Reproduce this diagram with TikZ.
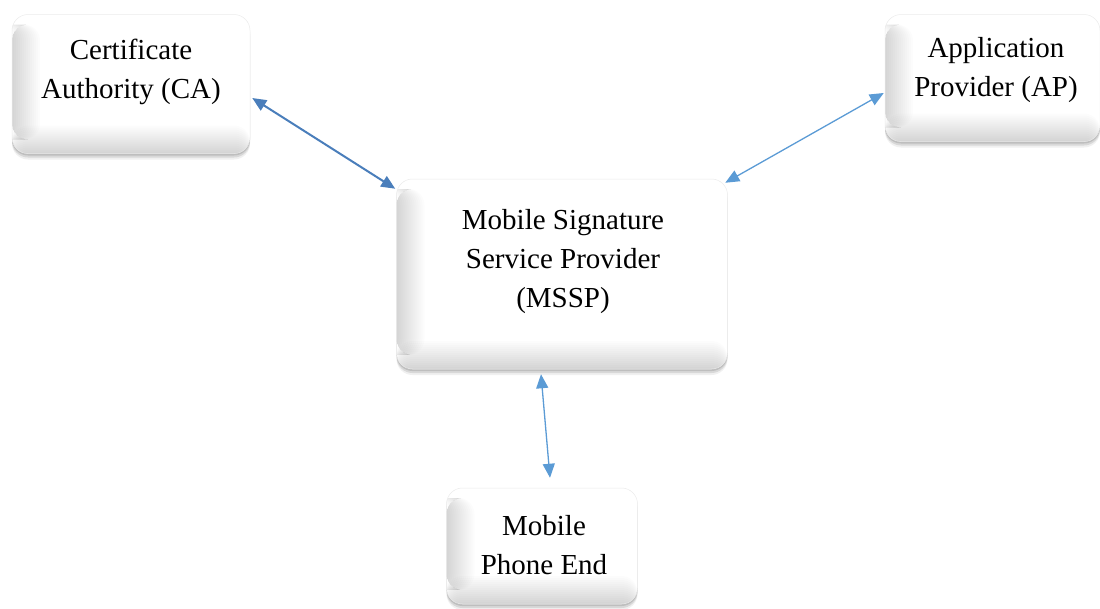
\documentclass[tikz,border=0pt]{standalone}
\usepackage{fontspec}
\setmainfont{Liberation Serif}
\usetikzlibrary{arrows.meta,shadows}
\definecolor{arrdark}{HTML}{4A7EBB}
\definecolor{arrlight}{HTML}{5B9BD5}
\tikzset{
  box/.style={rounded corners=16pt, fill=white, draw=black!8, line width=0.5pt,
    general shadow={shadow yshift=-6pt, fill=black, opacity=0.06},
    general shadow={shadow yshift=-4pt, fill=black, opacity=0.10},
    general shadow={shadow yshift=-2pt, fill=black, opacity=0.12},
    path picture={
      \foreach \i in {1,...,14}{
        \fill[black, opacity=0.012]
          (path picture bounding box.south west) rectangle ([yshift=2*\i pt]path picture bounding box.south east);
      }
      \foreach \i in {1,...,14}{
        \fill[black, opacity=0.010]
          ([yshift=14pt]path picture bounding box.south west) rectangle ([xshift=2*\i pt,yshift=-10pt]path picture bounding box.north west);
      }
    }},
  lbl/.style={align=center, inner sep=0pt, font=\fontsize{29}{39}\selectfont},
  arr/.style={{Triangle[length=14pt,width=12pt]}-{Triangle[length=14pt,width=12pt]}, arrlight, line width=1.3pt},
}
\begin{document}
\begin{tikzpicture}[x=1pt,y=-1pt]
\useasboundingbox (0,0) rectangle (1100,608);
\node[box, minimum width=238pt, minimum height=139pt] (ca) at (131,84) {};
\node[box, minimum width=215pt, minimum height=127pt] (ap) at (992.5,78) {};
\node[box, minimum width=331pt, minimum height=190pt] (mssp) at (562,274) {};
\node[box, minimum width=191pt, minimum height=116pt] (mob) at (542,546) {};
\node[lbl] (cat) at (131,72) {Certificate\\Authority (CA)};
\node[lbl] (apt) at (996,70) {Application\\Provider (AP)};
\node[lbl] (msspt) at (563,262) {Mobile Signature\\Service Provider\\(MSSP)};
\node[lbl] (mobt) at (544,545) {Mobile\\Phone End};
\draw[arr, arrdark, line width=2pt] ([xshift=2pt,yshift=-14pt]ca.east) -- ([xshift=-1pt,yshift=-10pt]mssp.north west);
\draw[arr] ([xshift=-1pt,yshift=-15pt]ap.west) -- ([xshift=-2.5pt,yshift=-4pt]mssp.north east);
\draw[arr] ([xshift=-21pt,yshift=-5pt]mssp.south) -- ([xshift=8pt,yshift=10pt]mob.north);
\end{tikzpicture}
\end{document}
